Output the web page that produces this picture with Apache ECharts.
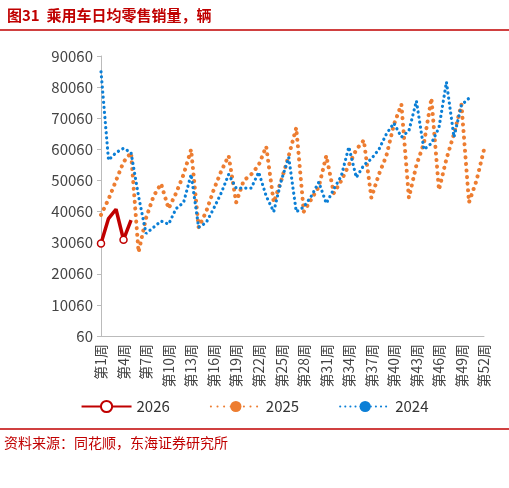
<!DOCTYPE html>
<html><head><meta charset="utf-8">
<script src="https://cdn.jsdelivr.net/npm/echarts@6/dist/echarts.min.js"></script>
<style>body{margin:0}#c{width:509px;height:488px}</style>
</head><body><div id="c"></div>
<script>
// 周次
const weeks = Array.from({ length: 52 }, (_, i) => '第' + (i + 1) + '周')
const s2026 = [29800, 37800, 40800, 31000, 37300]
const s2025 = [39000, 44000, 50000, 56000, 59000, 27000, 38000, 45000, 49000, 41000,
  46000, 52000, 60000, 35000, 40000, 47000, 53000, 58000, 43000, 50000,
  52000, 55000, 61000, 43000, 50000, 58000, 67000, 40000, 44000, 48000,
  58000, 46000, 50000, 55000, 60000, 63000, 44500, 52000, 58000, 68000,
  74500, 44500, 55000, 62000, 76500, 47000, 57000, 65000, 74500, 43000,
  50000, 60000]
const s2024 = [85000, 56600, 59000, 60400, 59000, 45000, 33000, 35000, 37000, 36000,
  41000, 43000, 52000, 35000, 36500, 41000, 46000, 52000, 47600, 47600,
  47600, 52700, 45000, 40000, 50000, 57500, 40000, 41500, 45000, 49500,
  42700, 47300, 51500, 60800, 51000, 55000, 57000, 60000, 65000, 68500,
  64000, 66000, 75600, 60000, 62000, 67000, 81700, 64000, 74300, 76500]

const chart = echarts.init(document.getElementById('c'))
const font = 'Noto Sans CJK SC'
chart.setOption({
  textStyle: { fontFamily: font },
  title: {
    text: '图31  乘用车日均零售销量，辆', left: 2, top: 3,
    textStyle: { fontSize: 15, fontWeight: 'bold', color: '#c00000', fontFamily: font }
  },
  graphic: [
    { type: 'line', shape: { x1: 0, y1: 30, x2: 509, y2: 30 }, style: { stroke: '#c00000', lineWidth: 1.5 } },
    { type: 'line', shape: { x1: 0, y1: 429, x2: 509, y2: 429 }, style: { stroke: '#c00000', lineWidth: 1.5 } },
    { type: 'text', left: 4, top: 436, style: { text: '资料来源：同花顺，东海证券研究所', fontSize: 14, fill: '#c00000', fontFamily: font } }
  ],
  legend: {
    top: 394, left: 'center', itemGap: 40, itemWidth: 50,
    textStyle: { fontSize: 15, color: '#333' },
    data: ['2026', '2025', '2024']
  },
  grid: { left: 101, right: 25, top: 56, bottom: 152 },
  xAxis: {
    type: 'category', data: weeks, boundaryGap: false,
    axisLine: { lineStyle: { color: '#bbb' } },
    axisTick: { show: false },
    axisLabel: { interval: 2, rotate: 90, fontSize: 14, color: '#444' }
  },
  yAxis: {
    type: 'value', min: 60, max: 90060, interval: 10000,
    axisLine: { show: true, lineStyle: { color: '#bbb' } },
    axisTick: { show: true, length: 4, lineStyle: { color: '#bbb' } },
    splitLine: { show: false },
    axisLabel: { fontSize: 15, color: '#444', formatter: v => String(v) }
  },
  series: [
    { name: '2026', type: 'line', data: s2026, symbol: 'circle', symbolSize: 7,
      itemStyle: { color: '#fff', borderColor: '#c00000', borderWidth: 1.5 },
      lineStyle: { width: 3.5, color: '#c00000' }, z: 5 },
    { name: '2025', type: 'line', data: s2025, symbol: 'none',
      itemStyle: { color: '#ed7d31' },
      lineStyle: { width: 4, type: [0.1, 6.5], cap: 'round', color: '#ed7d31' } },
    { name: '2024', type: 'line', data: s2024, symbol: 'none',
      itemStyle: { color: '#0b7fd6' },
      lineStyle: { width: 3.2, type: [0.1, 5], cap: 'round', color: '#0b7fd6' } }
  ]
})
</script></body></html>
